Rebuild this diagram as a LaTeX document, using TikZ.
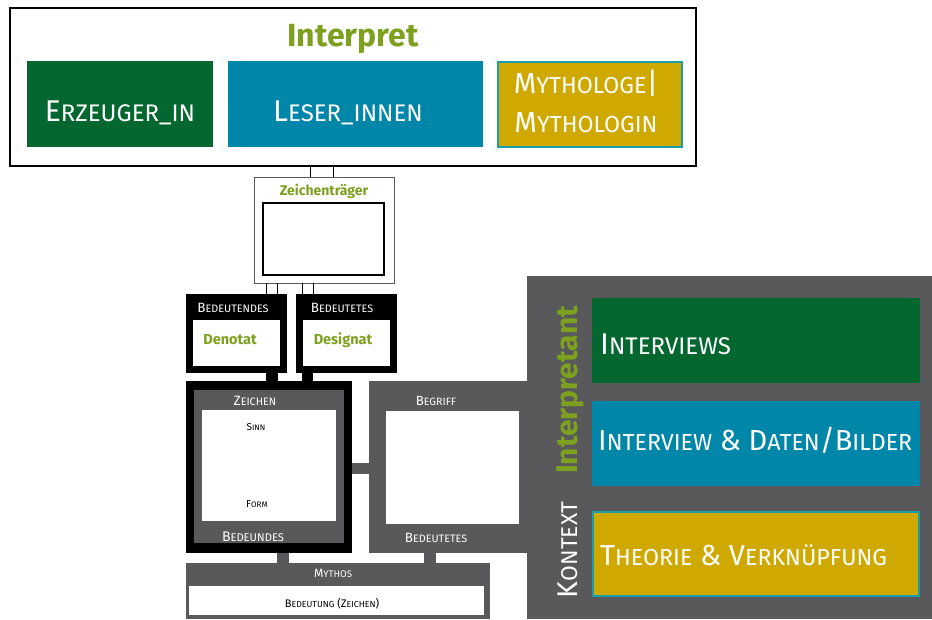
\documentclass[tikz,border=0pt]{standalone}
\usepackage{fontspec}
\usepackage{graphicx}
\setmainfont{Fira Sans}
\usetikzlibrary{calc}
\definecolor{dgreen}{HTML}{03672F}
\definecolor{teal}{HTML}{0086A9}
\definecolor{gold}{HTML}{CFA900}
\definecolor{mgray}{HTML}{59595B}
\definecolor{olive}{HTML}{7DA01E}
\definecolor{tealline}{HTML}{1A9FA8}
% fake small capitals: first letter full size, rest as scaled capitals
\newcommand\kp[2]{#1\scalebox{0.8}{\MakeUppercase{#2}}}
\newcommand\fs[1]{\fontsize{#1}{#1}\selectfont}
\begin{document}
\begin{tikzpicture}[x=1pt,y=-1pt,
  box/.style={rectangle,inner sep=0pt,outer sep=0pt,anchor=north west},
  txt/.style={inner sep=0pt,anchor=base},
  ltxt/.style={inner sep=0pt,anchor=base west},
  thin/.style={draw=black,line width=0.8pt},
  bar/.style={line width=#1pt}]
\useasboundingbox (0,0) rectangle (932,619);

% Interpret group
\node[box,draw=black,line width=2pt,fill=white,minimum width=686pt,minimum height=158pt] (interp) at (10,8) {};
\node[txt,text=olive,font=\bfseries\fs{32}] (interpT) at (353,46) {Interpret};
\node[box,fill=dgreen,minimum width=186pt,minimum height=86pt] (erz) at (27,61) {};
\node[box,fill=teal,minimum width=255pt,minimum height=86pt] (les) at (228,61) {};
\node[box,fill=gold,draw=tealline,line width=1.6pt,minimum width=184pt,minimum height=85pt] (myt) at (498,62) {};
\node[txt,text=white,font=\fs{30}] (erzT) at (120,121) {\kp{E}{rzeuger\_in}};
\node[txt,text=white,font=\fs{30}] (lesT) at (348,121) {\kp{L}{eser\_innen}};
\node[txt,text=white,font=\fs{29}] (mytT1) at (586,93) {\kp{M}{ythologe}|};
\node[txt,text=white,font=\fs{29}] (mytT2) at (586,132) {\kp{M}{ythologin}};

% Zeichentraeger
\node[box,draw=mgray,line width=0.9pt,fill=white,minimum width=140pt,minimum height=106pt] (ztr) at (254,177) {};
\node[box,draw=black,line width=1.1pt,minimum width=121pt,minimum height=72pt] (ztrIn) at (263,203) {};
\node[txt,text=olive,font=\bfseries\fs{14}] (ztrT) at (324,195) {Zeichenträger};
\draw[thin] (interp.south -| 310,0) -- (ztr.north -| 310,0);
\draw[thin] (interp.south -| 333,0) -- (ztr.north -| 333,0);

% Bedeutendes / Bedeutetes
\node[box,fill=black,minimum width=101pt,minimum height=79pt] (bdn) at (186,294) {};
\node[box,fill=white,minimum width=87pt,minimum height=46pt] (den) at (193,320) {};
\node[box,fill=black,minimum width=101pt,minimum height=79pt] (bdt) at (296,294) {};
\node[box,fill=white,minimum width=87pt,minimum height=46pt] (des) at (303,320) {};
\node[txt,text=white,font=\fs{13.5}] (bdnT) at (233,312) {\kp{B}{edeutendes}};
\node[txt,text=white,font=\fs{13.5}] (bdtT) at (342,312) {\kp{B}{edeutetes}};
\node[txt,text=olive,font=\bfseries\fs{14.5}] (denT) at (230,344) {Denotat};
\node[txt,text=olive,font=\bfseries\fs{14.5}] (desT) at (343,344) {Designat};
\draw[thin] (ztr.south -| 266,0) -- (bdn.north -| 266,0);
\draw[thin] (ztr.south -| 277,0) -- (bdn.north -| 277,0);
\draw[thin] (ztr.south -| 302,0) -- (bdt.north -| 302,0);
\draw[thin] (ztr.south -| 313,0) -- (bdt.north -| 313,0);

% Zeichen
\node[box,fill=black,minimum width=166pt,minimum height=172pt] (zei) at (186,381) {};
\node[box,fill=mgray,minimum width=150pt,minimum height=153pt] (zeiG) at (194,390) {};
\node[box,fill=white,minimum width=134pt,minimum height=111pt] (zeiW) at (202,410) {};
\node[txt,text=white,font=\fs{13.5}] (zeiT) at (255,405) {\kp{Z}{eichen}};
\node[txt,text=black,font=\fs{10}] (sinn) at (256,430) {\kp{S}{inn}};
\node[txt,text=black,font=\fs{10}] (form) at (257,507) {\kp{F}{orm}};
\node[txt,text=white,font=\fs{14}] (zeiB) at (253,541) {\kp{B}{edeundes}};
\draw[bar=11.5] ($(bdn.south -| 272,0)$) -- (zei.north -| 272,0);
\draw[bar=11.5] ($(bdt.south -| 307.5,0)$) -- (zei.north -| 307.5,0);

% Kontext panel and Begriff
\node[box,fill=mgray,minimum width=405pt,minimum height=343pt] (ctx) at (527,276) {};
\node[box,fill=mgray,minimum width=160pt,minimum height=172pt] (beg) at (369,381) {};
\node[box,fill=white,minimum width=133pt,minimum height=113pt] (begW) at (386,411) {};
\node[txt,text=white,font=\fs{13.3}] (begT) at (436,405) {\kp{B}{egriff}};
\node[txt,text=white,font=\fs{13.5}] (begB) at (436,542) {\kp{B}{edeutetes}};
\draw[bar=11,mgray] (zei.east |- 0,468.5) -- (beg.west |- 0,468.5);

% Mythos
\node[box,fill=mgray,minimum width=304pt,minimum height=56pt] (myth) at (186,563) {};
\node[box,fill=white,minimum width=295pt,minimum height=29pt] (mythW) at (189,586) {};
\node[txt,text=white,font=\fs{12}] (mythT) at (333,577) {\kp{M}{ythos}};
\node[txt,text=black,font=\fs{11}] (mythB) at (332,607) {\kp{B}{edeutung} (\kp{Z}{eichen})};
\draw[bar=12,mgray] (zei.south -| 283,0) -- (myth.north -| 283,0);
\draw[bar=12,mgray] (beg.south -| 430,0) -- (myth.north -| 430,0);

% Interpretant column
\node[txt,rotate=90,text=olive,font=\bfseries\fs{30}] (itp) at (577,390) {Interpretant};
\node[txt,rotate=90,text=white,font=\fs{28.5}] (kon) at (577,550) {\kp{K}{ontext}};
\node[box,fill=dgreen,minimum width=328pt,minimum height=85pt] (ivw) at (592,298) {};
\node[box,fill=teal,minimum width=328pt,minimum height=85pt] (dat) at (592,401) {};
\node[box,fill=gold,draw=tealline,line width=1.4pt,minimum width=326pt,minimum height=84pt] (the) at (593,512) {};
\node[ltxt,text=white,font=\fs{30}] (ivwT) at (600,354) {\kp{I}{nterviews}};
\node[ltxt,text=white,font=\fs{29}] (datT) at (598,450) {\kp{I}{nterview} \& \kp{D}{aten}/\kp{B}{ilder}};
\node[ltxt,text=white,font=\fs{29}] (theT) at (600,565) {\kp{T}{heorie} \& \kp{V}{erknüpfung}};
\end{tikzpicture}
\end{document}
